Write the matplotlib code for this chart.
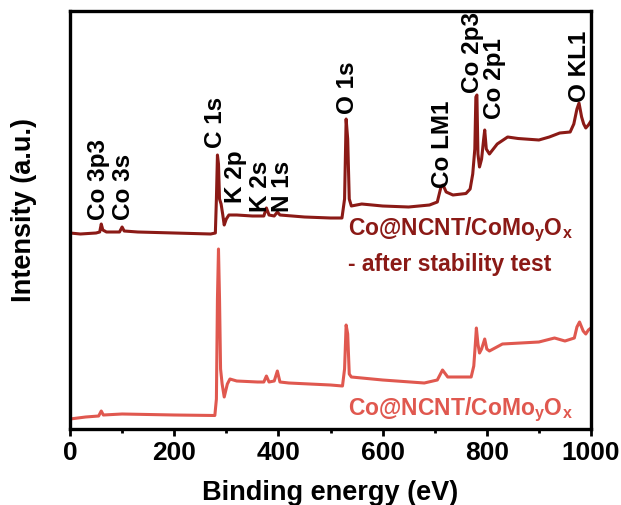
import matplotlib
matplotlib.use("Agg")
import matplotlib.pyplot as plt
from matplotlib.ticker import MultipleLocator

plt.rcParams['font.family'] = ['Liberation Sans', 'DejaVu Sans']
plt.rcParams['mathtext.fontset'] = 'custom'
plt.rcParams['mathtext.rm'] = 'Liberation Sans'
plt.rcParams['mathtext.bf'] = 'Liberation Sans:bold'

# After stability test (top, dark red)
after_energy = [0, 20, 50, 57, 60, 63, 70, 95, 100, 104, 130, 200, 270, 279, 281, 283, 285, 287, 290, 293,
                296, 300, 305, 320, 350, 372, 377, 382, 392, 398, 403, 450, 500, 522, 527, 530, 533, 536,
                540, 560, 600, 650, 690, 705, 712, 716, 722, 735, 760, 768, 773, 777, 779, 781, 783, 786,
                790, 794, 796, 799, 805, 820, 840, 860, 900, 920, 940, 960, 967, 973, 977, 982, 986, 990,
                995, 1000]
after_intensity = [196, 195, 196, 197, 205, 199, 197, 197, 202, 198, 197, 196, 195, 196, 230, 274, 265, 230,
                   225, 215, 204, 210, 214, 214, 213, 213, 221, 214, 213, 217, 214, 212, 211, 211, 230, 310,
                   290, 230, 223, 225, 223, 222, 224, 227, 242, 244, 237, 234, 235.5, 240, 255, 280, 332, 334,
                   275, 262, 270, 290, 299, 280, 275, 285, 292, 290.5, 289, 292, 296, 297, 305, 320, 326, 312,
                   305, 301, 304, 308]

# Pristine (bottom, light red)
pristine_energy = [0, 30, 55, 60, 64, 100, 200, 278, 281, 283, 285, 287, 289, 292, 296, 302, 307, 320, 360,
                   372, 377, 382, 392, 398, 403, 420, 500, 523, 527, 530, 533, 536, 540, 600, 680, 705, 715,
                   725, 770, 775, 778, 780, 783, 786, 790, 796, 800, 805, 830, 900, 930, 950, 968, 973, 978,
                   985, 990, 995, 1000]
pristine_intensity = [10, 12, 13, 18, 14, 15, 14, 13.5, 30, 130, 180, 130, 60, 45, 32, 45, 50, 48, 47, 47, 53,
                      47, 48, 58, 47, 46, 44, 43, 60, 104, 95, 55, 52, 49, 46, 49, 59, 52, 52, 63, 85, 101,
                      85, 76, 80, 90, 80, 78, 85, 87, 91, 88, 91, 102, 107, 98, 95, 99, 101]

peak_labels = ['Co 3p3', 'Co 3s', 'C 1s', 'K 2p', 'K 2s', 'N 1s', 'O 1s', 'Co LM1', 'Co 2p3', 'Co 2p1', 'O KL1']
peak_label_x = [54, 102, 280, 317, 366, 408, 532, 715, 772, 814, 978]
peak_label_y = [210, 210, 282, 227, 218, 218, 316, 242, 337, 311, 328]

x_ticks = [0, 200, 400, 600, 800, 1000]

dark = '#8B1A16'
light = '#E0584F'

fig = plt.figure(figsize=(6.21, 5.06), dpi=100)
ax = fig.add_axes([70/621, (506-430)/506, (591-70)/621, (430-11.5)/506])

ax.plot(after_energy, after_intensity, color=dark, lw=2.2)
ax.plot(pristine_energy, pristine_intensity, color=light, lw=2.2)

for lab, x, y in zip(peak_labels, peak_label_x, peak_label_y):
    ax.text(x, y, lab, rotation=90, ha='center', va='bottom', fontsize=17.5, fontweight='bold', color='black')

ax.text(534, 200, r'Co@NCNT/CoMo$_{\mathbf{y}}$O$_{\mathbf{x}}$', fontsize=16.5, fontweight='bold',
        color=dark, ha='left', va='center')
ax.text(534, 165, '- after stability test', fontsize=16.5, fontweight='bold', color=dark, ha='left', va='center')
ax.text(534, 20, r'Co@NCNT/CoMo$_{\mathbf{y}}$O$_{\mathbf{x}}$', fontsize=16.5, fontweight='bold',
        color=light, ha='left', va='center')

ax.set_xlim(0, 1000)
ax.set_ylim(0, 418.5)
ax.set_xticks(x_ticks)
ax.set_xticklabels([str(t) for t in x_ticks])
ax.xaxis.set_minor_locator(MultipleLocator(100))
ax.set_yticks([])
ax.tick_params(axis='x', which='major', direction='out', length=5, width=2, labelsize=19, pad=3)
ax.tick_params(axis='x', which='minor', direction='out', length=3, width=2)
for lbl in ax.get_xticklabels():
    lbl.set_fontweight('bold')
for sp in ax.spines.values():
    sp.set_linewidth(2.4)

ax.set_xlabel('Binding energy (eV)', fontsize=19.5, fontweight='bold', labelpad=11)
ax.set_ylabel('Intensity (a.u.)', fontsize=19.5, fontweight='bold')
ax.yaxis.set_label_coords(-0.063, 0.526)

fig.savefig('out.png', dpi=100)
